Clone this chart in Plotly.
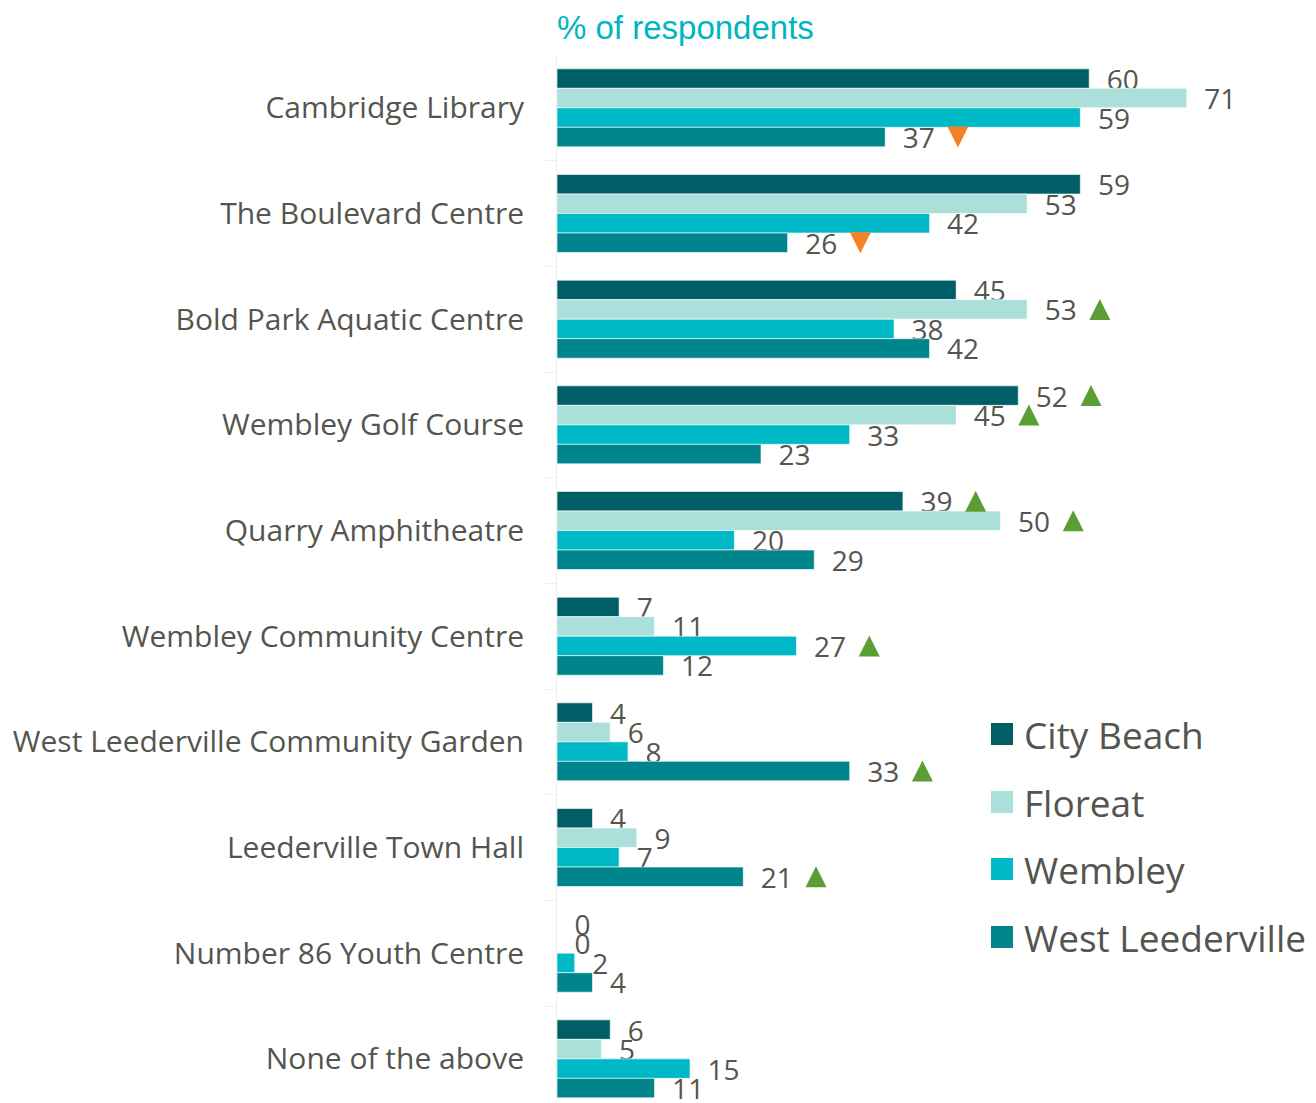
import plotly.graph_objects as go

categories = [
    "Cambridge Library",
    "The Boulevard Centre",
    "Bold Park Aquatic Centre",
    "Wembley Golf Course",
    "Quarry Amphitheatre",
    "Wembley Community Centre",
    "West Leederville Community Garden",
    "Leederville Town Hall",
    "Number 86 Youth Centre",
    "None of the above",
]
series_names = ["City Beach", "Floreat", "Wembley", "West Leederville"]
city_beach = [60, 59, 45, 52, 39, 7, 4, 4, 0, 6]
floreat = [71, 53, 53, 45, 50, 11, 6, 9, 0, 5]
wembley = [59, 42, 38, 33, 20, 27, 8, 7, 2, 15]
west_leederville = [37, 26, 42, 23, 29, 12, 33, 21, 4, 11]
series_values = [city_beach, floreat, wembley, west_leederville]

# significance markers: (category index, series index)
sig_higher = [(2, 1), (3, 0), (3, 1), (4, 0), (4, 1), (5, 2), (6, 3), (7, 3)]
sig_lower = [(0, 3), (1, 3)]

colors = ["#005F66", "#ABDFDA", "#00B9C6", "#00858D"]
TEXT = "#55554F"
BARGAP = 0.262
TRI_GAP = 8.2
TRI_SIZE = 21
W, H = 1316, 1103
L, T = 557, 55
PX_PER_UNIT = 8.87
XMAX = (W - L) / PX_PER_UNIT
CAT_PX = 105.67
YMAX = -0.5 + (H - T) / CAT_PX

fig = go.Figure()
y_idx = list(range(len(categories)))
for k, (name, vals) in enumerate(zip(series_names, series_values)):
    fig.add_trace(go.Bar(
        name=name, x=vals, y=y_idx, orientation="h",
        marker=dict(color=colors[k], line=dict(color="rgba(255,255,255,0.6)", width=1)),
        text=vals, texttemplate="\u00a0\u00a0%{x}", textposition="outside",
        constraintext="none", cliponaxis=False,
        textfont=dict(family="Open Sans", size=28, color=TEXT),
        showlegend=False,
    ))

bw = (1 - BARGAP) / len(series_names)
half_tri = (TRI_SIZE / 2) / CAT_PX


def tri_trace(pairs, symbol, color, shift):
    xs = [series_values[s][c] + TRI_GAP for c, s in pairs]
    ys = [c + (s - (len(series_names) - 1) / 2) * bw + shift for c, s in pairs]
    return go.Scatter(x=xs, y=ys, mode="markers", cliponaxis=False,
                      marker=dict(symbol=symbol, size=TRI_SIZE, color=color, line=dict(width=0)),
                      showlegend=False, hoverinfo="skip")


# arrow symbols have their tip at the data point; shift so the glyph is centred on the bar
fig.add_trace(tri_trace(sig_higher, "arrow-up", "#5B9E36", -half_tri))
fig.add_trace(tri_trace(sig_lower, "arrow-down", "#F58025", half_tri))

fig.update_layout(
    width=W, height=H,
    margin=dict(l=L, r=0, t=T, b=0),
    barmode="group", bargap=BARGAP, bargroupgap=0,
    plot_bgcolor="white", paper_bgcolor="white",
    showlegend=False,
    title=dict(text="% of respondents", x=0, xref="paper", xanchor="left",
               y=1 - 27 / H, yanchor="middle",
               font=dict(family="Liberation Sans", size=33, color="#00B5C3")),
    xaxis=dict(range=[0, XMAX], visible=False, showgrid=False, zeroline=False),
    yaxis=dict(
        range=[YMAX, -0.5], tickmode="array", tickvals=y_idx, ticktext=categories,
        ticks="", ticklabelstandoff=26, showgrid=False, zeroline=False,
        showline=True, linecolor="#EFEFEF", linewidth=1,
        tickfont=dict(family="Open Sans", size=30, color=TEXT),
        minor=dict(tickmode="array", tickvals=[i + 0.5 for i in y_idx[:-1]],
                   ticks="outside", ticklen=12, tickcolor="#EFEFEF", tickwidth=1),
    ),
)

# legend drawn manually for large swatches
plot_w = W - L
plot_h = H - T
leg_y_px = [734, 802, 869, 937]
for k, name in enumerate(series_names):
    yc = 1 - (leg_y_px[k] - T) / plot_h
    half = 11 / plot_h
    fig.add_shape(type="rect", xref="paper", yref="paper",
                  x0=(991 - L) / plot_w, x1=(1013 - L) / plot_w,
                  y0=yc - half, y1=yc + half,
                  fillcolor=colors[k], line=dict(width=0))
    fig.add_annotation(text=name, xref="paper", yref="paper",
                       x=(1022 - L) / plot_w, y=yc, xanchor="left", yanchor="middle",
                       showarrow=False,
                       font=dict(family="Open Sans", size=37, color=TEXT))

fig.write_html("out.html", config={"displayModeBar": False},
               post_script="document.body.style.margin='0';")
